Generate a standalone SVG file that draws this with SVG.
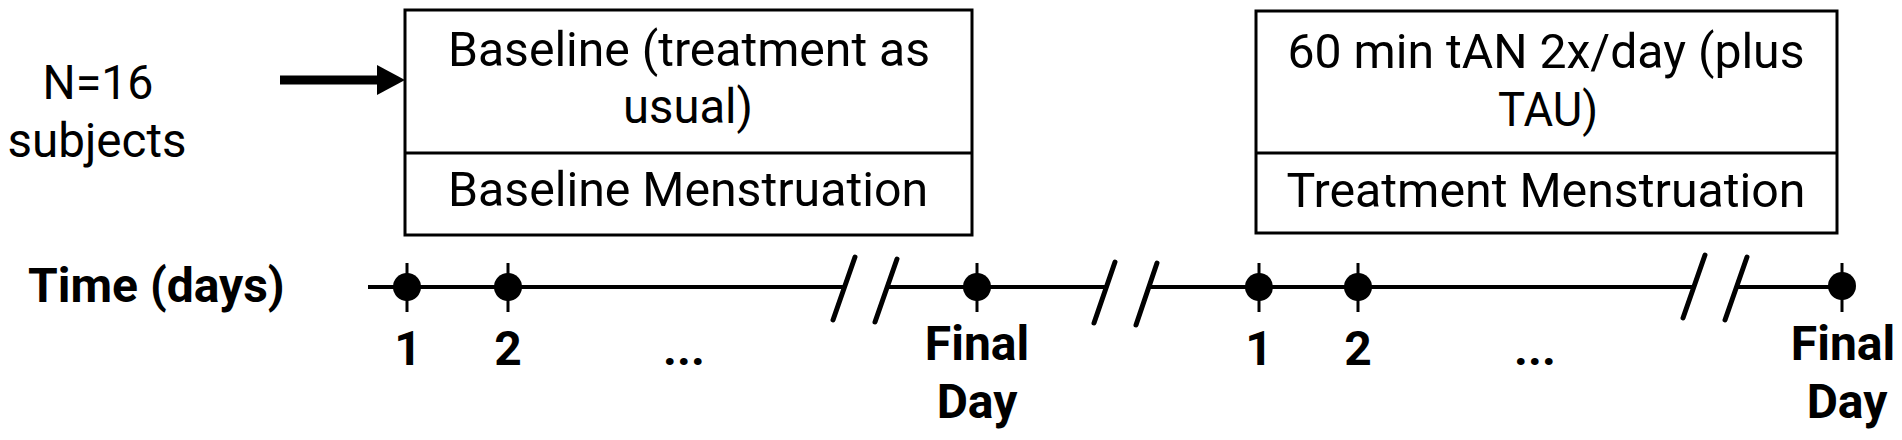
<svg xmlns="http://www.w3.org/2000/svg" width="1902" height="440" viewBox="0 0 1902 440">
<style>
.reg{font-family:Roboto,"Liberation Sans",sans-serif;font-size:48px;fill:#000;text-anchor:middle}
.bold{font-family:Roboto,"Liberation Sans",sans-serif;font-size:48px;font-weight:bold;fill:#000;text-anchor:middle}
.box{fill:#fff;stroke:#000;stroke-width:3}
.tl{stroke:#000;stroke-width:4;fill:none}
.brk{stroke:#000;stroke-width:5;stroke-linecap:round}
.tick{stroke:#000;stroke-width:3}
</style>
<rect width="1902" height="440" fill="#fff"/>
<g id="subjects">
<text class="reg" x="98" y="99" textLength="111" lengthAdjust="spacingAndGlyphs">N=16</text>
<text class="reg" x="97" y="157" textLength="179" lengthAdjust="spacingAndGlyphs">subjects</text>
</g>
<g id="baseline">
<rect class="box" x="405" y="10" width="567" height="225"/>
<line class="box" x1="405" y1="153" x2="972" y2="153"/>
<text class="reg" x="689" y="66" textLength="482" lengthAdjust="spacingAndGlyphs">Baseline (treatment as</text>
<text class="reg" x="688" y="123" textLength="130" lengthAdjust="spacingAndGlyphs">usual)</text>
<text class="reg" x="688" y="206" textLength="480" lengthAdjust="spacingAndGlyphs">Baseline Menstruation</text>
</g>
<g id="treatment">
<rect class="box" x="1256" y="11" width="581" height="222"/>
<line class="box" x1="1256" y1="153" x2="1837" y2="153"/>
<text class="reg" x="1546" y="68" textLength="517" lengthAdjust="spacingAndGlyphs">60 min tAN 2x/day (plus</text>
<text class="reg" x="1548" y="126" textLength="100" lengthAdjust="spacingAndGlyphs">TAU)</text>
<text class="reg" x="1546" y="207" textLength="519" lengthAdjust="spacingAndGlyphs">Treatment Menstruation</text>
</g>
<g id="connectors">
<rect x="280" y="75.5" width="99" height="9" fill="#000"/>
<polygon points="377,65 405,80 377,95" fill="#000"/>
</g>
<g id="timeline">
<text class="bold" x="28" y="302" style="text-anchor:start">Time (days)</text>
<line class="tl" x1="368" y1="287" x2="845" y2="287"/>
<line class="tl" x1="887" y1="287" x2="1106" y2="287"/>
<line class="tl" x1="1149" y1="287" x2="1694" y2="287"/>
<line class="tl" x1="1737" y1="287" x2="1842" y2="287"/>
<line class="brk" x1="855" y1="257" x2="833" y2="320"/>
<line class="brk" x1="897" y1="259" x2="875" y2="322"/>
<line class="brk" x1="1115" y1="262" x2="1094" y2="323"/>
<line class="brk" x1="1157" y1="263" x2="1136" y2="325"/>
<line class="brk" x1="1705" y1="255" x2="1683" y2="318"/>
<line class="brk" x1="1747" y1="257" x2="1725" y2="320"/>
<g id="day-markers">
<line class="tick" x1="407" y1="263" x2="407" y2="312"/><circle cx="407" cy="287" r="14"/>
<line class="tick" x1="508" y1="263" x2="508" y2="312"/><circle cx="508" cy="287" r="14"/>
<line class="tick" x1="977" y1="263" x2="977" y2="312"/><circle cx="977" cy="287" r="14"/>
<line class="tick" x1="1259" y1="263" x2="1259" y2="312"/><circle cx="1259" cy="287" r="14"/>
<line class="tick" x1="1358" y1="263" x2="1358" y2="312"/><circle cx="1358" cy="287" r="14"/>
<line class="tick" x1="1842" y1="263" x2="1842" y2="312"/><circle cx="1842" cy="286" r="14"/>
</g>
<text class="bold" x="408" y="365">1</text>
<text class="bold" x="508" y="365">2</text>
<text class="bold" x="684" y="365">...</text>
<text class="bold" x="977" y="360">Final</text>
<text class="bold" x="977" y="418">Day</text>
<text class="bold" x="1259" y="365">1</text>
<text class="bold" x="1358" y="365">2</text>
<text class="bold" x="1535" y="365">...</text>
<text class="bold" x="1843" y="360">Final</text>
<text class="bold" x="1847" y="418">Day</text>
</g>
</svg>
